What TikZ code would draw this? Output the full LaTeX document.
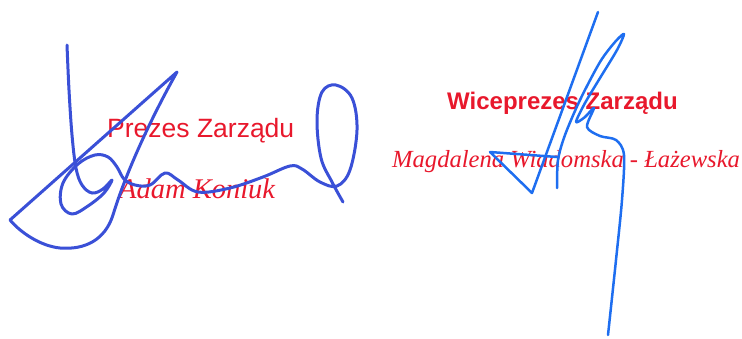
\documentclass[tikz,border=0pt]{standalone}
\usepackage{fontspec}
\setmainfont{Liberation Serif}
\setsansfont{Liberation Sans}
\definecolor{stamp}{RGB}{232,24,44}
\definecolor{inkA}{RGB}{58,80,215}
\definecolor{inkB}{RGB}{30,110,240}

\begin{document}
\begin{tikzpicture}[x=1pt,y=-1pt,
    stamptxt/.style={stamp,inner sep=0pt,anchor=base west},
    sigleft/.style={inkA,line width=3pt,line cap=round,line join=round},
    sigright/.style={inkB,line width=2.5pt,line cap=round,line join=round}]
    \useasboundingbox (0,0) rectangle (742,338);
    % stamps
    \node[stamptxt,font=\sffamily\fontsize{26.5}{30}\selectfont] (prezes) at (107,137.7) {Prezes Zarządu};
    \node[stamptxt,font=\itshape\fontsize{28.5}{32}\selectfont] (koniuk) at (119,198) {Adam Koniuk};
    \node[stamptxt,font=\sffamily\bfseries\fontsize{24}{28}\selectfont] (wiceprezes) at (447,109.3) {Wiceprezes Zarządu};
    \node[stamptxt,font=\itshape\fontsize{24.6}{28}\selectfont] (wiadomska) at (392,167) {Magdalena Wiadomska - Łażewska};
    % left signature
    \draw[sigleft] (177,72) .. controls (150,120) and (125,175) .. (113,215)
        .. controls (105,240) and (85,250) .. (60,248)
        .. controls (40,246) and (20,232) .. (10,220) -- cycle;
    \draw[sigleft] plot[smooth,tension=0.6] coordinates {(67,45) (69,90) (72,135) (76,168) (82,185) (92,193)
        (103,189) (112,180) (104,193) (88,206) (72,214) (61,204) (63,183) (78,164) (95,155) (108,157)
        (117,167) (124,179) (135,185) (150,185) (165,173) (178,180) (198,192) (230,188) (263,177)
        (290,166) (302,169) (320,182) (337,186) (350,170) (357,130) (352,98) (336,85) (322,92)
        (317,120) (321,158) (332,182) (343,202)};
    % right signature
    \draw[sigright] (557,157) -- (490,152) -- (532,193) -- (598,12);
    \draw[sigright] plot[smooth,tension=0.5] coordinates {(557,188) (558,160) (565,135) (580,100)
        (600,62) (615,42) (624,34) (617,50) (600,78) (585,103) (576,122) (585,117) (594,108)
        (587,127) (600,136) (616,140) (624,155) (622,200) (616,260) (608,335)};
\end{tikzpicture}
\end{document}
